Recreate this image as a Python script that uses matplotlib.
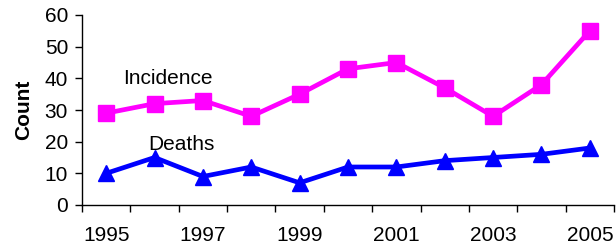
import matplotlib.pyplot as plt

# data
years = [1995, 1996, 1997, 1998, 1999, 2000, 2001, 2002, 2003, 2004, 2005]
incidence = [29, 32, 33, 28, 35, 43, 45, 37, 28, 38, 55]
deaths = [10, 15, 9, 12, 7, 12, 12, 14, 15, 16, 18]

plt.rcParams['font.family'] = ['Liberation Sans', 'DejaVu Sans']
fs = 15

fig = plt.figure(figsize=(6.16, 2.46), dpi=100)
ax = fig.add_axes([82 / 616, 1 - 205 / 246, 532 / 616, 190 / 246])

pos = list(range(len(years)))
ax.plot(pos, incidence, color='#FF00FF', linewidth=3.4, marker='s', markersize=11.5,
        clip_on=False)
ax.plot(pos, deaths, color='#0000FF', linewidth=3.4, marker='^', markersize=11.5,
        clip_on=False)

ax.text(0.35, 40, 'Incidence', fontsize=fs, va='center', ha='left')
ax.text(0.87, 19, 'Deaths', fontsize=fs, va='center', ha='left')

ax.set_xlim(-0.5, len(years) - 0.5)
ax.set_ylim(0, 60)
ax.set_yticks(range(0, 61, 10))

# category axis: ticks between categories, labels every other year
ax.set_xticks([p - 0.5 for p in range(len(years) + 1)])
ax.set_xticklabels([])
ax.set_xticks(pos[::2], minor=True)
ax.set_xticklabels([str(y) for y in years[::2]], minor=True)
ax.tick_params(axis='x', which='major', direction='out', length=5, width=1)
ax.tick_params(axis='x', which='minor', length=0, pad=15, labelsize=fs)
ax.tick_params(axis='y', direction='out', length=5, width=1, pad=5, labelsize=fs)

ax.set_ylabel('Count', fontsize=fs, fontweight='bold', labelpad=8)

for s in ['top', 'right']:
    ax.spines[s].set_visible(False)
for s in ['left', 'bottom']:
    ax.spines[s].set_linewidth(1)

fig.savefig('out.png', dpi=100)
